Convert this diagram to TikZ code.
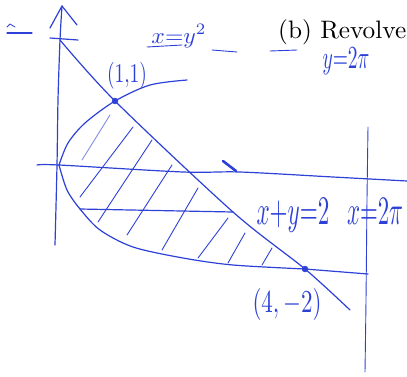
\documentclass[tikz,border=0pt]{standalone}
\usepackage{graphicx}
\definecolor{hb}{RGB}{45,65,215}
\tikzset{
  hand/.style={draw=hb, line width=1.2pt, line cap=round, line join=round},
  hatchline/.style={draw=hb, line width=0.9pt, line cap=round},
  lbl/.style={text=hb, inner sep=0pt},
  dotmark/.style={circle, fill=hb, draw=hb, inner sep=0pt, minimum size=6pt},
}
\begin{document}
\begin{tikzpicture}[x=1pt,y=-1pt]
\useasboundingbox (0,0) rectangle (407,376);
\clip (0,0) rectangle (407,376);
% key coordinates
\coordinate (O) at (59,165);
\node[dotmark] (P11) at (115,101) {};
\node[dotmark] (P42) at (305,269) {};
\coordinate (Ytop) at (62,6);
\coordinate (Ybot) at (55,245);
\coordinate (Xl) at (37,165);
\coordinate (Xr) at (407,181);
\coordinate (Ltop) at (60,40);
\coordinate (Lend) at (350,310);
\coordinate (Pend) at (187,80);
\coordinate (Hl) at (80,209);
\coordinate (Hr) at (233,212);
\coordinate (Rtop) at (368,127);
\coordinate (Rbot) at (365,372);
\coordinate (Rh) at (368,274);
% y-axis
\draw[hand] plot[smooth] coordinates {(Ytop) (60,40) (58,100) (57,165) (Ybot)};
\draw[hand] (50,28) -- (Ytop) -- (77,25);
\draw[hand] (50,38) -- (78,40);
% left mark
\draw[hand] (7,33) -- (32,33);
\draw[hand, line width=0.8pt] (7,27) -- (10,24) -- (15,27);
% x-axis
\draw[hand] plot[smooth] coordinates {(Xl) (O) (183,172) (240,172) (333,177) (Xr)};
\draw[draw=hb, line width=2.6pt, line cap=round] (223,161) -- (236,171);
% line x+y=2
\draw[hand] plot[smooth] coordinates {(Ltop) (P11) (Hr) (P42) (Lend)};
% parabola x=y^2
\draw[hand] plot[smooth] coordinates {(O) (68,143) (85,123) (P11) (150,85) (Pend)};
\draw[hand] plot[smooth] coordinates {(O) (67,190) (Hl) (100,230) (133,247) (183,258) (233,265) (P42)};
% horizontal strip lines
\draw[hand] (Hl) -- (Hr);
\draw[hand] (P42) -- (Rh);
% right vertical line
\draw[hand, line width=0.9pt] plot[smooth] coordinates {(Rtop) (367,200) (366,300) (Rbot)};
% hatching
\draw[hatchline, draw=hb!60] (110,115) -- (82,160);
\draw[hatchline] (133,127) -- (80,197);
\draw[hatchline] (152,140) -- (98,222);
\draw[hatchline] (172,165) -- (127,235);
\draw[hatchline] (198,188) -- (162,250);
\draw[hatchline] (228,218) -- (198,258);
\draw[hatchline] (245,233) -- (228,263);
\draw[hatchline] (272,248) -- (262,265);
% underline marks
\draw[hand, line width=0.9pt] (147,47) -- (182,45);
\draw[hand, line width=0.9pt] (212,50) -- (237,52);
\draw[hand, line width=0.9pt] (270,51) -- (297,50);
% labels
\node[lbl] (lpar) at (179,36) {\resizebox*{55pt}{23pt}{$x{=}y^2$}};
\node[lbl] (l11) at (127,76) {\resizebox*{40pt}{27pt}{$(1{,}1)$}};
\node[lbl] (lline) at (293,215) {\resizebox*{73pt}{34pt}{$x{+}y{=}2$}};
\node[lbl] (lx2pi) at (375,211) {\resizebox*{56pt}{26pt}{$x{=}2\pi$}};
\node[lbl] (l42) at (287,304) {\resizebox*{69pt}{32pt}{$(4,{-}2)$}};
\node[lbl] (ly2pi) at (346,61) {\resizebox*{47pt}{27pt}{$y{=}2\pi$}};
\node[inner sep=0pt, anchor=west] (rev) at (278,32) {\resizebox{128pt}{!}{(b) Revolve}};
\end{tikzpicture}
\end{document}
